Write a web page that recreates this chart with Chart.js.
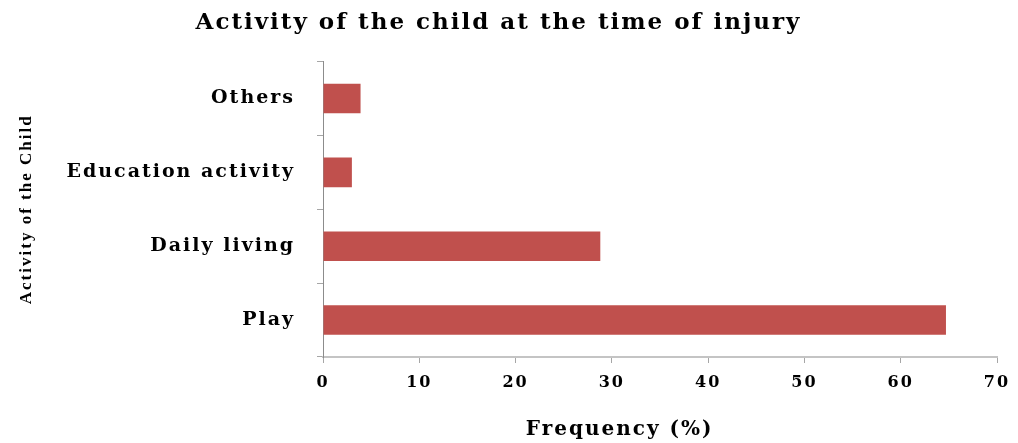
<!DOCTYPE html>
<html>
<head>
<meta charset="utf-8">
<script src="https://cdn.jsdelivr.net/npm/chart.js@4"></script>
<style>
  html, body { margin: 0; padding: 0; background: #fff; }
  #wrap { width: 1018px; height: 443px; }
</style>
</head>
<body>
<div id="wrap"><canvas id="graficoActividad"></canvas></div>
<script>
// datos (de abajo hacia arriba en el eje)
let categorias = ['Others', 'Education activity', 'Daily living', 'Play'];
let frecuencias = [3.9, 3.0, 28.8, 64.7];
let ticksX = [0, 10, 20, 30, 40, 50, 60, 70];

let fuente = "'DejaVu Serif', serif";

// el texto original se ve "estirado", se agrega espacio entre letras
const espaciado = {
    id: 'espaciado',
    beforeUpdate: function(chart) { chart.ctx.letterSpacing = '2px'; },
    beforeDraw: function(chart) { chart.ctx.letterSpacing = '2px'; }
};

let ctx = document.getElementById('graficoActividad').getContext('2d');
let chartActividad = new Chart(ctx, {
    type: 'bar',
    data: {
        labels: categorias,
        datasets: [{
            data: frecuencias,
            backgroundColor: '#c0504d',
            borderWidth: 0,
            barPercentage: 0.5,
            categoryPercentage: 0.8
        }]
    },
    plugins: [espaciado],
    options: {
        indexAxis: 'y',
        responsive: true,
        maintainAspectRatio: false,
        animation: false,
        layout: {
            padding: { left: 0, right: 21, top: 0, bottom: 0 }
        },
        plugins: {
            legend: { display: false },
            tooltip: { enabled: false },
            title: {
                display: true,
                text: 'Activity of the child at the time of injury',
                color: '#000',
                font: { family: fuente, size: 23, weight: 'bold' },
                padding: { top: 9, bottom: 25 }
            }
        },
        scales: {
            x: {
                min: 0,
                max: 70,
                afterBuildTicks: function(scale) {
                    scale.ticks = ticksX.map(function(v) { return { value: v }; });
                },
                afterFit: function(scale) {
                    scale.height = 86;
                    scale.paddingLeft = 0;
                    scale.paddingRight = 0;
                },
                grid: {
                    drawOnChartArea: false,
                    drawTicks: true,
                    tickLength: 6,
                    color: '#a6a6a6'
                },
                border: { color: '#c4c4c4', width: 2 },
                ticks: {
                    color: '#000',
                    padding: 10,
                    maxRotation: 0,
                    font: { family: fuente, size: 16, weight: 'bold' }
                },
                title: {
                    display: true,
                    // espacios al final para correr el titulo a la izquierda como en el original
                    text: 'Frequency (%)         ',
                    color: '#000',
                    font: { family: fuente, size: 20, weight: 'bold' },
                    padding: { top: 0, bottom: 1 }
                }
            },
            y: {
                afterFit: function(scale) {
                    scale.width = 323;
                },
                grid: {
                    offset: true,
                    drawOnChartArea: false,
                    drawTicks: true,
                    tickLength: 6,
                    color: '#a6a6a6'
                },
                border: { color: '#8c8c8c', width: 1 },
                ticks: {
                    color: '#000',
                    padding: 22,
                    font: { family: fuente, size: 19, weight: 'bold' }
                },
                title: {
                    display: true,
                    text: 'Activity of the Child',
                    color: '#000',
                    font: { family: "'Liberation Serif', serif", size: 17, weight: 'bold' },
                    padding: { top: 16, bottom: 0 }
                }
            }
        }
    }
});
</script>
</body>
</html>
